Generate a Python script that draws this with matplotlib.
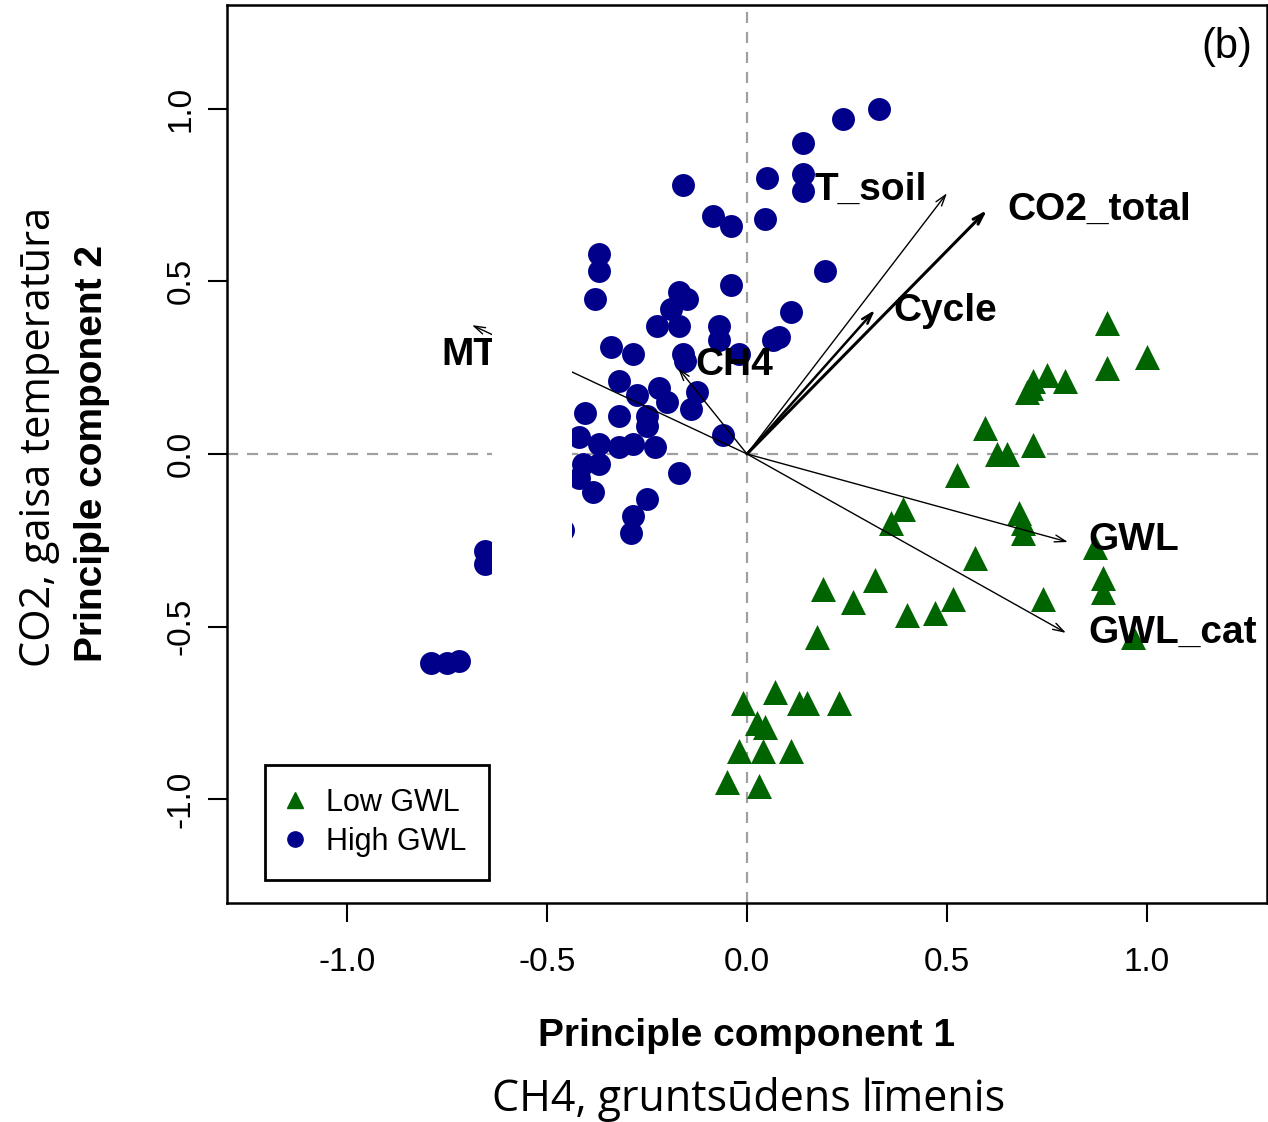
import matplotlib.pyplot as plt
from matplotlib.lines import Line2D
from matplotlib.patches import Rectangle

plt.rcParams['font.family'] = 'Liberation Sans'
plt.rcParams['axes.unicode_minus'] = False

# PCA scores, High GWL (blue circles)
high_x = [0.33, 0.24, 0.14, 0.14, 0.14, 0.05, -0.16, -0.085, -0.04, 0.045,
          0.195, -0.37, -0.37, -0.38, -0.04, -0.17, -0.15, -0.19, -0.225, -0.17,
          -0.07, 0.11, 0.08, 0.065, -0.07, -0.34, -0.285, -0.16, -0.155, -0.02,
          -0.32, -0.22, -0.275, -0.2, -0.125, -0.14, -0.405, -0.32, -0.25, -0.25,
          -0.06, -0.42, -0.37, -0.32, -0.285, -0.23, -0.41, -0.37, -0.17, -0.385,
          -0.25, -0.285, -0.29, -0.42, -0.46, -0.655, -0.655, -0.79, -0.75, -0.72]
high_y = [1.00, 0.97, 0.90, 0.81, 0.76, 0.80, 0.78, 0.69, 0.66, 0.68,
          0.53, 0.58, 0.53, 0.45, 0.49, 0.47, 0.45, 0.42, 0.37, 0.37,
          0.37, 0.41, 0.34, 0.33, 0.33, 0.31, 0.29, 0.29, 0.27, 0.29,
          0.21, 0.19, 0.17, 0.15, 0.18, 0.13, 0.12, 0.11, 0.11, 0.08,
          0.055, 0.05, 0.03, 0.02, 0.03, 0.02, -0.03, -0.03, -0.055, -0.11,
          -0.13, -0.18, -0.23, -0.07, -0.22, -0.28, -0.32, -0.605, -0.605, -0.60]

# PCA scores, Low GWL (green triangles)
low_x = [0.90, 0.90, 1.00, 0.715, 0.75, 0.795, 0.70, 0.71, 0.595, 0.625,
         0.65, 0.715, 0.525, 0.39, 0.36, 0.68, 0.69, 0.69, 0.87, 0.57,
         0.89, 0.89, 0.32, 0.265, 0.40, 0.47, 0.515, 0.74, 0.965, 0.19,
         0.175, -0.01, 0.07, 0.13, 0.15, 0.23, 0.025, 0.045, -0.02, 0.04,
         0.11, -0.05, 0.03]
low_y = [0.38, 0.25, 0.28, 0.21, 0.23, 0.21, 0.18, 0.19, 0.075, 0.0,
         0.0, 0.025, -0.06, -0.16, -0.20, -0.17, -0.20, -0.23, -0.27, -0.30,
         -0.36, -0.40, -0.365, -0.43, -0.465, -0.46, -0.42, -0.42, -0.53, -0.39,
         -0.53, -0.72, -0.69, -0.72, -0.72, -0.72, -0.78, -0.79, -0.86, -0.86,
         -0.86, -0.95, -0.96]

# variable loadings (arrow tips)
var_names = ['T_soil', 'CO2_total', 'Cycle', 'CH4', 'MT', 'GWL', 'GWL_cat']
var_x = [0.50, 0.60, 0.32, -0.1725, -0.6875, 0.8025, 0.7975]
var_y = [0.755, 0.706, 0.417, 0.249, 0.373, -0.255, -0.518]

# label placement and arrow widths
label_dx = [-0.33, 0.05, 0.045, 0.0425, -0.0775, 0.05, 0.055]
label_dy = [0.009, 0.0, -0.003, 0.009, -0.086, 0.006, 0.0]
arrow_lw = [1.0, 2.2, 1.8, 1.0, 1.0, 1.0, 1.0]

fig = plt.figure(figsize=(12.68, 11.22), dpi=100)
ax = fig.add_axes([0.179, 0.1952, 0.8202, 0.8004])

ax.axhline(0, color='#a0a0a0', lw=1.6, ls=(0, (5, 4)), zorder=1)
ax.axvline(0, color='#a0a0a0', lw=1.6, ls=(0, (5, 4)), zorder=1)

ax.scatter(high_x, high_y, s=16.5**2, marker='o', color='#00008B', linewidths=0, zorder=3)
ax.scatter(low_x, low_y, s=18**2, marker='^', color='#006400', linewidths=0, zorder=3)

for name, x, y, dx, dy, lw in zip(var_names, var_x, var_y, label_dx, label_dy, arrow_lw):
    ax.annotate('', xy=(x, y), xytext=(0, 0),
                arrowprops=dict(arrowstyle='->,head_length=0.8,head_width=0.25',
                                lw=lw, color='black', shrinkA=0, shrinkB=0),
                zorder=4)
    ax.text(x + dx, y + dy, name, fontsize=28, fontweight='bold',
            ha='left', va='center', zorder=5)

# white patch over part of the plot (as in the source image)
ax.add_patch(Rectangle((-0.6375, -0.42), 0.2, 0.82, facecolor='white',
                       edgecolor='none', zorder=10))

ax.text(0.9856, 0.953, '(b)', transform=ax.transAxes, fontsize=30,
        ha='right', va='center')

ax.set_xlim(-1.3, 1.3)
ax.set_ylim(-1.3, 1.3)
ticks = [-1.0, -0.5, 0.0, 0.5, 1.0]
ax.set_xticks(ticks)
ax.set_yticks(ticks)
ax.set_xticklabels([f'{t:.1f}' for t in ticks])
ax.set_yticklabels([f'{t:.1f}' for t in ticks], rotation=90, va='center')
ax.tick_params(axis='both', direction='out', length=14, width=1.5, labelsize=24)
ax.tick_params(axis='x', pad=18)
ax.tick_params(axis='y', pad=8)
for s in ax.spines.values():
    s.set_linewidth(1.8)

ax.set_xlabel('Principle component 1', fontsize=28, fontweight='bold')
ax.set_ylabel('Principle component 2', fontsize=28, fontweight='bold')
ax.xaxis.set_label_coords(0.5, -0.128)
ax.yaxis.set_label_coords(-0.1125, 0.5)

handles = [Line2D([], [], marker='^', color='#006400', ls='none', markersize=12),
           Line2D([], [], marker='o', color='#00008B', ls='none', markersize=11)]
leg = ax.legend(handles, ['Low GWL', 'High GWL'], loc='lower left',
                bbox_to_anchor=(0.0365, 0.0256), borderaxespad=0, fontsize=22,
                fancybox=False, edgecolor='black', framealpha=1,
                handlelength=0.5, handletextpad=0.75, borderpad=0.75, labelspacing=0.3)
leg.get_frame().set_linewidth(2)
leg.set_zorder(11)

fig.text(50 / 1268, 1 - 437 / 1122, 'CO2, gaisa temperatūra', family='Open Sans',
         fontsize=30, rotation=90, rotation_mode='anchor', ha='center', va='baseline')
fig.text(749 / 1268, 11 / 1122, 'CH4, gruntsūdens līmenis', family='Open Sans',
         fontsize=31, ha='center', va='baseline')

fig.savefig('out.png', dpi=100)
